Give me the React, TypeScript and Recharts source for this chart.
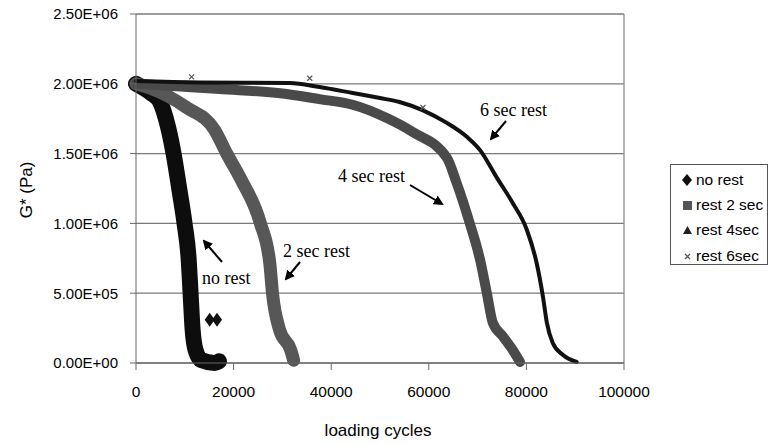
import React from "react";
import {
  ComposedChart,
  Line,
  Scatter,
  XAxis,
  YAxis,
  CartesianGrid,
  ReferenceLine,
} from "recharts";

// loading cycles / G* (Pa)
const noRestCycles = [0, 3200, 4800, 6500, 7700, 8900, 9950, 10800, 11200, 11600, 12200, 13400, 16100, 17000];
const noRestG = [2.0e6, 1.93e6, 1.88e6, 1.7e6, 1.5e6, 1.24e6, 1.0e6, 0.74e6, 0.49e6, 0.24e6, 0.093e6, 0.02e6, 0, 0.012e6];
const noRestOutlierCycles = [15100, 16600];
const noRestOutlierG = [0.31e6, 0.31e6];

const rest2Cycles = [0, 2800, 10400, 16100, 18600, 21600, 25500, 27400, 28000, 29400, 31700, 32300];
const rest2G = [2.0e6, 1.97e6, 1.83e6, 1.67e6, 1.5e6, 1.31e6, 1.0e6, 0.72e6, 0.49e6, 0.24e6, 0.093e6, 0.02e6];

const rest4Cycles = [0, 17100, 30900, 37600, 44400, 51400, 56700, 63700, 65700, 68400, 70500, 71900, 73100, 75200, 77200, 78700];
const rest4G = [2.0e6, 1.963e6, 1.927e6, 1.89e6, 1.85e6, 1.755e6, 1.655e6, 1.47e6, 1.29e6, 1.0e6, 0.74e6, 0.5e6, 0.29e6, 0.19e6, 0.093e6, 0.007e6];

const rest6Cycles = [0, 13000, 31500, 37600, 44400, 50000, 54000, 58800, 63700, 67800, 70500, 73900, 77200, 80100, 82100, 83400, 84200, 85400, 87500, 90300];
const rest6G = [2.02e6, 2.01e6, 2.006e6, 1.977e6, 1.934e6, 1.898e6, 1.87e6, 1.81e6, 1.72e6, 1.62e6, 1.525e6, 1.33e6, 1.146e6, 0.953e6, 0.716e6, 0.473e6, 0.287e6, 0.143e6, 0.057e6, 0.007e6];
const rest6OutlierCycles = [11400, 35600, 58800];
const rest6OutlierG = [2.05e6, 2.04e6, 1.83e6];

const xTicks = [0, 20000, 40000, 60000, 80000, 100000];
const yTicks = [0, 500000, 1000000, 1500000, 2000000, 2500000];

const seriesNames = ["no rest", "rest 2 sec", "rest 4sec", "rest 6sec"];

const toRows = (xs: number[], ys: number[]) => xs.map((c, i) => ({ cycles: c, g: ys[i] }));

const noRest = toRows(noRestCycles, noRestG);
const noRestOutliers = toRows(noRestOutlierCycles, noRestOutlierG);
const rest2 = toRows(rest2Cycles, rest2G);
const rest4 = toRows(rest4Cycles, rest4G);
const rest6 = toRows(rest6Cycles, rest6G);
const rest6Outliers = toRows(rest6OutlierCycles, rest6OutlierG);

const sans = "'Liberation Sans', Arial, sans-serif";
const serif = "'Liberation Serif', 'Times New Roman', serif";

function sci(v: number) {
  const [m, e] = v.toExponential(2).split("e");
  const sign = e[0] === "-" ? "-" : "+";
  const digits = e.replace(/[+-]/, "").padStart(2, "0");
  return `${m}E${sign}${digits}`;
}

const Diamond = (props: any) => {
  const { cx, cy } = props;
  return <path d={`M${cx},${cy - 7} L${cx + 5},${cy} L${cx},${cy + 7} L${cx - 5},${cy} Z`} fill="#111" />;
};

const Cross = (props: any) => {
  const { cx, cy } = props;
  return (
    <path
      d={`M${cx - 2.5},${cy - 2.5} L${cx + 2.5},${cy + 2.5} M${cx - 2.5},${cy + 2.5} L${cx + 2.5},${cy - 2.5}`}
      stroke="#555"
      strokeWidth={1.2}
    />
  );
};

const legendMarks = [
  <path d="M5,0 L10,6 L5,12 L0,6 Z" fill="#111" />,
  <rect x={1} y={2} width={9} height={9} fill="#555" />,
  <path d="M5.5,2 L10,10 L1,10 Z" fill="#222" />,
  <path d="M3,4 L8,9 M3,9 L8,4" stroke="#555" strokeWidth={1.2} />,
];

export default function App() {
  return (
    <div style={{ position: "absolute", left: 0, top: 0, width: 769, height: 444, background: "#fff" }}>
      <ComposedChart width={769} height={444} margin={{ top: 14, right: 145, left: 0, bottom: 0 }}>
        <CartesianGrid vertical={false} stroke="#7a7a7a" strokeWidth={1.3} />
        <XAxis
          dataKey="cycles"
          type="number"
          domain={[0, 100000]}
          ticks={xTicks}
          height={81}
          tickSize={7}
          tickMargin={16}
          stroke="#666"
          tick={{ fill: "#000", fontSize: 15.5, fontFamily: sans }}
        />
        <YAxis
          dataKey="g"
          type="number"
          domain={[0, 2500000]}
          ticks={yTicks}
          width={136}
          tickSize={6}
          tickMargin={12}
          stroke="#666"
          tickFormatter={sci}
          tick={{ fill: "#000", fontSize: 15, fontFamily: sans }}
        />
        <ReferenceLine x={100000} stroke="#8a8a8a" strokeWidth={1.3} />
        <Line data={noRest} dataKey="g" type="monotone" stroke="#0d0d0d" strokeWidth={16} strokeLinecap="round" strokeLinejoin="round" dot={false} isAnimationActive={false} />
        <Line data={rest2} dataKey="g" type="monotone" stroke="#575757" strokeWidth={13} strokeLinecap="round" strokeLinejoin="round" dot={false} isAnimationActive={false} />
        <Line data={rest4} dataKey="g" type="monotone" stroke="#4a4a4a" strokeWidth={10} strokeLinecap="round" strokeLinejoin="round" dot={false} isAnimationActive={false} />
        <Line data={rest6} dataKey="g" type="monotone" stroke="#111" strokeWidth={4} strokeLinecap="round" strokeLinejoin="round" dot={false} isAnimationActive={false} />
        <Scatter data={noRestOutliers} dataKey="g" shape={Diamond} isAnimationActive={false} />
        <Scatter data={rest6Outliers} dataKey="g" shape={Cross} isAnimationActive={false} />
      </ComposedChart>

      {/* axis titles and annotations */}
      <svg width={769} height={444} style={{ position: "absolute", left: 0, top: 0, pointerEvents: "none" }}>
        <defs>
          <marker id="head" viewBox="0 0 10 10" refX="8" refY="5" markerWidth="5" markerHeight="5" orient="auto">
            <path d="M0,0 L10,5 L0,10 Z" fill="#000" />
          </marker>
        </defs>
        <text x={378} y={436} textAnchor="middle" fontFamily={sans} fontSize={17} fill="#000">
          loading cycles
        </text>
        <text x={32} y={190} transform="rotate(-90 32 190)" textAnchor="middle" fontFamily={sans} fontSize={17} fill="#000">
          G* (Pa)
        </text>

        <g fontFamily={serif} fontSize={18} fill="#000">
          <text x={480} y={116}>6 sec rest</text>
          <text x={338} y={182}>4 sec rest</text>
          <text x={283} y={257}>2 sec rest</text>
          <text x={202} y={284}>no rest</text>
        </g>
        <g stroke="#000" strokeWidth={2} markerEnd="url(#head)">
          <line x1={506} y1={121} x2={491} y2={139} />
          <line x1={410} y1={185} x2={442} y2={204} />
          <line x1={300} y1={262} x2={286} y2={279} />
          <line x1={222} y1={262} x2={204} y2={241} />
        </g>
      </svg>

      <div
        style={{
          position: "absolute",
          left: 670,
          top: 164,
          width: 98,
          height: 101,
          border: "1px solid #555",
          boxSizing: "border-box",
          paddingTop: 2,
          fontFamily: sans,
          fontSize: 15.5,
          color: "#000",
        }}
      >
        {seriesNames.map((name, i) => (
          <div key={name} style={{ height: 25.3, display: "flex", alignItems: "center" }}>
            <svg width={11} height={12} style={{ marginLeft: 11, marginRight: 3 }}>
              {legendMarks[i]}
            </svg>
            <span style={{ whiteSpace: "nowrap" }}>{name}</span>
          </div>
        ))}
      </div>
    </div>
  );
}
